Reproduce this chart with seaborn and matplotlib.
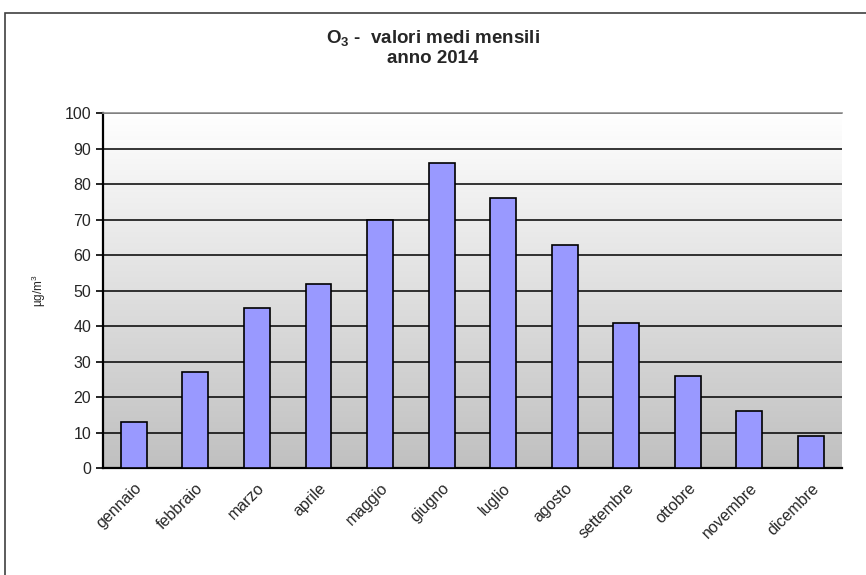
import numpy as np
import matplotlib
matplotlib.use("Agg")
import matplotlib.pyplot as plt
from matplotlib.colors import LinearSegmentedColormap
from matplotlib.patches import Rectangle
import seaborn as sns

# monthly mean O3 values (µg/m3), 2014
months = ['gennaio', 'febbraio', 'marzo', 'aprile', 'maggio', 'giugno',
          'luglio', 'agosto', 'settembre', 'ottobre', 'novembre', 'dicembre']
values = [13, 27, 45, 52, 70, 86, 76, 63, 41, 26, 16, 9]
y_ticks = list(range(0, 101, 10))

sns.set_style("white")
plt.rcParams['font.family'] = ['Liberation Sans', 'DejaVu Sans']
plt.rcParams['mathtext.default'] = 'regular'

fig = plt.figure(figsize=(8.66, 5.75), dpi=100)
ax = fig.add_axes([0.119, 0.186, 0.853, 0.617])

# gradient background of the plot area (white on top, grey at bottom)
grad = np.linspace(0, 1, 256).reshape(-1, 1)
cmap = LinearSegmentedColormap.from_list('bg', ['#C0C0C0', '#FFFFFF'])
ax.imshow(grad, cmap=cmap, origin='lower', aspect='auto',
          extent=[-0.5, len(months) - 0.5, 0, 100], zorder=0)

sns.barplot(x=months, y=values, color='#9999FF', saturation=1,
            edgecolor='black', linewidth=1.2, width=0.42, ax=ax, zorder=3)

ax.set_xlim(-0.5, len(months) - 0.5)
ax.set_ylim(0, 100)
ax.set_yticks(y_ticks)
ax.yaxis.grid(True, color='black', linewidth=1.1, zorder=1)
ax.set_axisbelow(True)

ax.set_xticks(np.arange(len(months)))
ax.set_xticklabels(months, rotation=45, ha='right', rotation_mode='anchor',
                   fontsize=11.5)
ax.set_xticks(np.arange(-0.5, len(months)), minor=True)
ax.tick_params(axis='x', which='major', length=0, pad=9)
ax.tick_params(axis='x', which='minor', length=5, width=1.2, color='black',
               direction='out')
ax.tick_params(axis='y', length=5, width=1.2, color='black', direction='out',
               labelsize=11.5, left=True)

for s in ['left', 'bottom']:
    ax.spines[s].set_color('black')
    ax.spines[s].set_linewidth(1.6)
ax.spines['top'].set_color('#909090')
ax.spines['top'].set_linewidth(1.2)
ax.spines['right'].set_visible(False)

ax.set_xlabel('')
ax.set_ylabel('µg/m$^3$', fontsize=8.5, labelpad=12)

fig.text(0.5, 0.934, 'O$_3$ -  valori medi mensili', ha='center', va='center',
         fontsize=13.5, fontweight='bold')
fig.text(0.5, 0.899, 'anno 2014', ha='center', va='center',
         fontsize=13.5, fontweight='bold')

# outer chart frame
fig.patches.append(Rectangle((5 / 866, -0.05), 1.1, 1 - 13 / 575 + 0.05,
                             transform=fig.transFigure, fill=False,
                             edgecolor='#404040', linewidth=1.2))

fig.savefig('out.png', dpi=100)
